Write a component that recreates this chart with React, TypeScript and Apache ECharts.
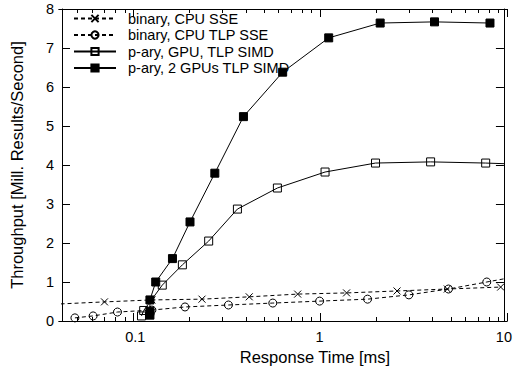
import React, { useEffect, useRef } from "react";
import * as echarts from "echarts";

const seriesNames = [
  "binary, CPU SSE",
  "binary, CPU TLP SSE",
  "p-ary, GPU, TLP SIMD",
  "p-ary, 2 GPUs TLP SIMD",
];

const cpuSse: [number, number][] = [
  [0.036, 0.43], [0.068, 0.49], [0.123, 0.54], [0.23, 0.56], [0.415, 0.62],
  [0.76, 0.69], [1.4, 0.72], [2.63, 0.77], [4.93, 0.82], [9.6, 0.87],
];
const cpuTlpSse: [number, number][] = [
  [0.047, 0.08], [0.059, 0.13], [0.08, 0.23], [0.123, 0.28], [0.186, 0.36],
  [0.32, 0.41], [0.557, 0.46], [1.0, 0.51], [1.82, 0.56], [3.05, 0.67],
  [5.0, 0.82], [8.07, 1.0], [12, 1.15],
];
const gpuSimd: [number, number][] = [
  [0.108, 0.13], [0.111, 0.27], [0.14, 0.92], [0.18, 1.44], [0.25, 2.05],
  [0.358, 2.87], [0.59, 3.41], [1.07, 3.82], [2.01, 4.05], [4.0, 4.08],
  [7.96, 4.05], [16, 4.0],
];
const gpu2Simd: [number, number][] = [
  [0.12, 0.15], [0.12, 0.25], [0.12, 0.54], [0.129, 1.0], [0.159, 1.6],
  [0.198, 2.54], [0.27, 3.79], [0.386, 5.24], [0.63, 6.38], [1.12, 7.26],
  [2.13, 7.64], [4.2, 7.67], [8.4, 7.64],
];

const xMajor = [0.1, 1, 10];
const xMinor = [
  0.05, 0.06, 0.07, 0.08, 0.09,
  0.2, 0.3, 0.4, 0.5, 0.6, 0.7, 0.8, 0.9,
  2, 3, 4, 5, 6, 7, 8, 9,
];
const xMin = 0.04;
const xMax = 10;
const yMin = 0;
const yMax = 8;
const yStep = 1;

const FONT = "'Liberation Sans', Arial, Helvetica, sans-serif";

export default function App() {
  const ref = useRef<HTMLDivElement>(null);
  useEffect(() => {
    document.body.style.margin = "0";
    const chart = echarts.init(ref.current!, null, { renderer: "svg" });
    const lg = (v: number) => Math.log10(v);
    const line = () => ({ show: true, lineStyle: { color: "#000", width: 1 } });
    const noSplit = () => ({ show: true, lineStyle: { color: "rgba(0,0,0,0)", opacity: 0 } });
    const gridPos = () => ({ left: 59, right: 8, top: 9, bottom: 50 });
    const hiddenY = (grid: number) => ({
      type: "value",
      min: yMin,
      max: yMax,
      gridIndex: grid,
      show: false,
    });
    const xTickAxis = (grid: number, pos: string, values: number[], length: number) => ({
      type: "value",
      min: lg(xMin),
      max: lg(xMax),
      gridIndex: grid,
      position: pos,
      axisLine: line(),
      splitLine: noSplit(),
      axisLabel: { show: false },
      axisTick: {
        show: true,
        inside: true,
        length,
        customValues: values.map(lg),
        lineStyle: { color: "#000", width: 1 },
      },
    });
    const yAxisFull = (pos: string, withLabel: boolean) => ({
      type: "value",
      min: yMin,
      max: yMax,
      interval: yStep,
      gridIndex: 0,
      position: pos,
      axisLine: line(),
      splitLine: noSplit(),
      axisTick: { show: true, inside: true, length: 8, lineStyle: { color: "#000", width: 1 } },
      axisLabel: withLabel
        ? { show: true, color: "#000", fontSize: 14.5, fontFamily: FONT, margin: 8 }
        : { show: false },
    });
    const option: any = {
      animation: false,
      grid: [gridPos(), gridPos(), gridPos()],
      xAxis: [
        {
          type: "log",
          logBase: 10,
          min: xMin,
          max: xMax,
          gridIndex: 0,
          position: "bottom",
          axisLine: line(),
          splitLine: noSplit(),
          axisTick: { show: false },
          axisLabel: {
            show: true,
            customValues: xMajor,
            formatter: (v: number) => String(+v.toPrecision(3)),
            color: "#000",
            fontSize: 14.5,
            fontFamily: FONT,
            margin: 8,
          },
          name: "Response Time [ms]",
          nameLocation: "middle",
          nameGap: 27,
          nameTextStyle: {
            color: "#000",
            fontSize: 16.5,
            fontFamily: FONT,
            padding: [0, 0, 0, 64],
          },
        },
        {
          type: "log",
          logBase: 10,
          min: xMin,
          max: xMax,
          gridIndex: 0,
          position: "top",
          axisLine: line(),
          splitLine: noSplit(),
          axisTick: { show: false },
          axisLabel: { show: false },
        },
        xTickAxis(1, "bottom", xMajor, 8),
        xTickAxis(1, "top", xMajor, 8),
        xTickAxis(2, "bottom", xMinor, 4),
        xTickAxis(2, "top", xMinor, 4),
      ],
      yAxis: [
        {
          ...yAxisFull("left", true),
          name: "Throughput [Mill. Results/Second]",
          nameLocation: "middle",
          nameRotate: 90,
          nameGap: 37,
          nameTextStyle: { color: "#000", fontSize: 16.5, fontFamily: FONT },
        },
        yAxisFull("right", false),
        hiddenY(1),
        hiddenY(2),
      ],
      legend: {
        orient: "vertical",
        left: 73,
        top: 11,
        padding: 0,
        itemWidth: 42,
        itemHeight: 9,
        itemGap: 1.5,
        textStyle: {
          color: "#000",
          fontSize: 14.5,
          fontFamily: FONT,
          padding: [0, 0, 0, 7],
        },
        data: seriesNames,
      },
      series: [
        {
          name: seriesNames[0],
          type: "line",
          data: cpuSse,
          xAxisIndex: 0,
          yAxisIndex: 0,
          symbol: "path://M0,0L8,8M8,0L0,8",
          symbolSize: 7,
          showAllSymbol: true,
          lineStyle: { color: "#000", width: 1, type: [4, 3] },
          itemStyle: { color: "transparent", borderColor: "#000", borderWidth: 1 },
          z: 2,
        },
        {
          name: seriesNames[1],
          type: "line",
          data: cpuTlpSse,
          xAxisIndex: 0,
          yAxisIndex: 0,
          symbol: "circle",
          symbolSize: 8,
          showAllSymbol: true,
          lineStyle: { color: "#000", width: 1, type: [4, 3] },
          itemStyle: { color: "transparent", borderColor: "#000", borderWidth: 1 },
          z: 2,
        },
        {
          name: seriesNames[2],
          type: "line",
          data: gpuSimd,
          xAxisIndex: 0,
          yAxisIndex: 0,
          symbol: "rect",
          symbolSize: 8,
          showAllSymbol: true,
          lineStyle: { color: "#000", width: 1 },
          itemStyle: { color: "transparent", borderColor: "#000", borderWidth: 1 },
          z: 3,
        },
        {
          name: seriesNames[3],
          type: "line",
          data: gpu2Simd,
          xAxisIndex: 0,
          yAxisIndex: 0,
          symbol: "rect",
          symbolSize: 8,
          showAllSymbol: true,
          lineStyle: { color: "#000", width: 1 },
          itemStyle: { color: "#000", borderColor: "#000", borderWidth: 1 },
          z: 4,
        },
      ],
    };
    chart.setOption(option);
    return () => chart.dispose();
  }, []);
  return <div ref={ref} style={{ width: 515, height: 371 }} />;
}
